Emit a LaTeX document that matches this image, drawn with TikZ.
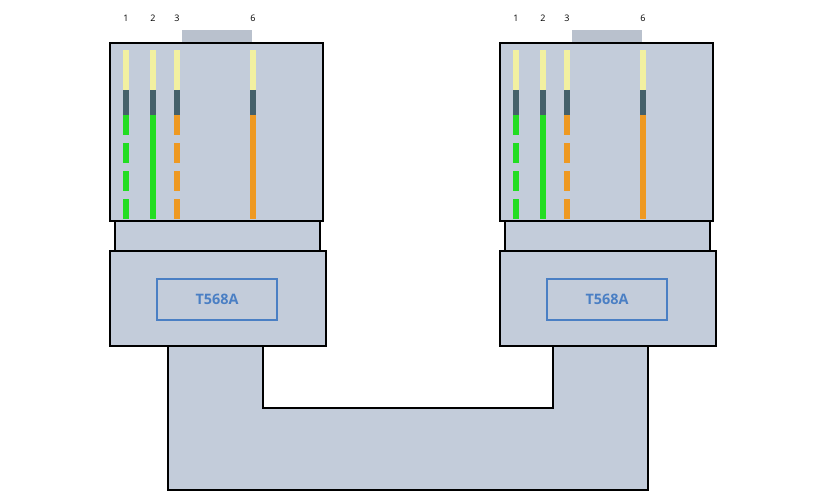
\documentclass[tikz,border=0pt]{standalone}
\usepackage{fontspec}
\setmainfont{Open Sans}
\definecolor{plug}{HTML}{C3CCDA}
\definecolor{tip}{HTML}{F2F0A0}
\definecolor{slate}{HTML}{44606A}
\definecolor{wgreen}{HTML}{22DD22}
\definecolor{worange}{HTML}{EE9922}
\definecolor{lblue}{HTML}{4A7FC4}
\tikzset{
  body/.style={draw=black, line width=1.6pt, fill=plug},
  wire/.style={line width=5.5pt},
  pin/.style={font=\small}
}
\begin{document}
\begin{tikzpicture}[x=1pt, y=-1pt]
\useasboundingbox (0,0) rectangle (826,500);

% cable
\draw[body] (168,346) -- (263,346) -- (263,408) -- (553,408) -- (553,346)
  -- (648,346) -- (648,490) -- (168,490) -- cycle;

\foreach \dx/\n in {0/L, 390/R}{
\begin{scope}[xshift=\dx]
\fill[plug!85!gray] (182,30) rectangle (252,43);
\draw[body] (110,43) rectangle (323,221);
\draw[body] (115,221) rectangle (320,251);
\draw[body] (110,251) rectangle (326,346);
\node[draw=lblue, line width=1.5pt, fill=plug, minimum width=120pt, minimum height=41pt,
  font=\Large\bfseries, text=lblue] (label\n) at (217,299.5) {T568A};
% wires
\foreach \x/\c/\dsh in {126/wgreen/1, 153/wgreen/0, 177/worange/1, 253/worange/0}{
  \draw[wire, tip] (\x,50) -- (\x,90);
  \draw[wire, slate] (\x,90) -- (\x,115);
  \ifnum\dsh=1
    \draw[wire, \c, dash pattern=on 20pt off 8pt] (\x,115) -- (\x,219);
  \else
    \draw[wire, \c] (\x,115) -- (\x,219);
  \fi
}
\node[pin] (p1\n) at (126,18) {1};
\node[pin] (p2\n) at (153,18) {2};
\node[pin] (p3\n) at (177,18) {3};
\node[pin] (p6\n) at (253,18) {6};
\end{scope}
}
\end{tikzpicture}
\end{document}
